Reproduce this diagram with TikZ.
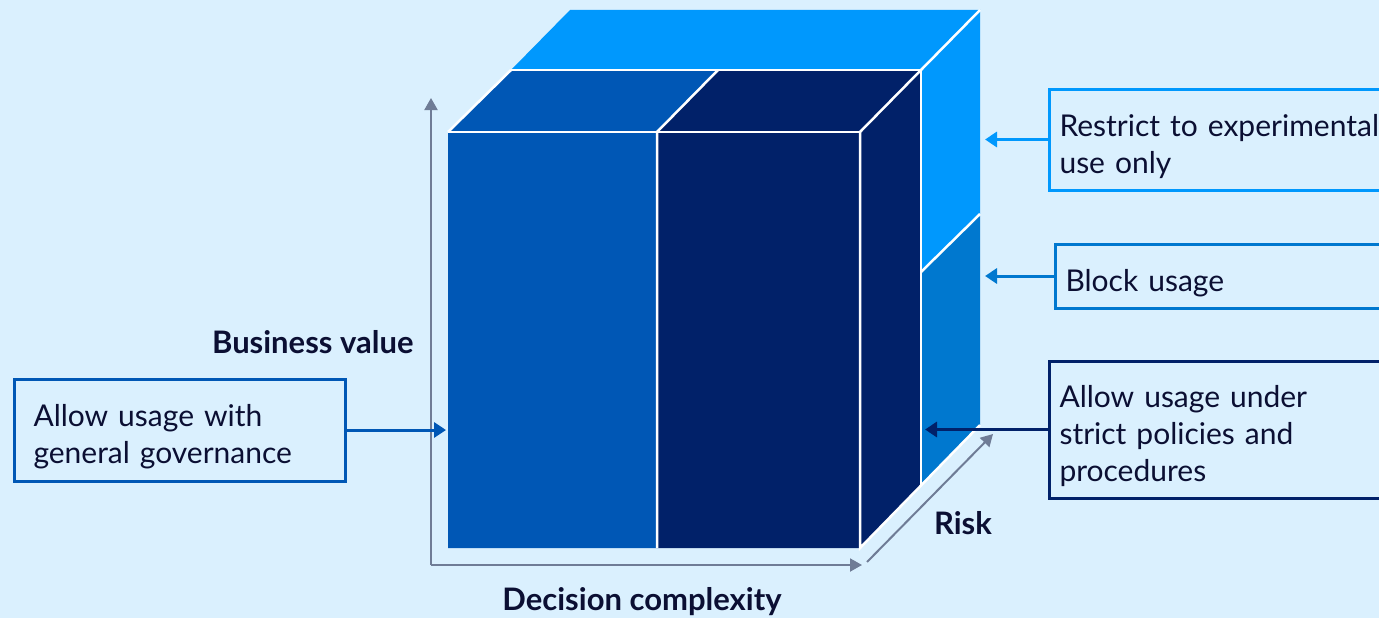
\documentclass[tikz,border=0pt]{standalone}
\usepackage{fontspec}
\setmainfont{Lato}
\usetikzlibrary{arrows.meta}
\definecolor{bgblue}{HTML}{DAF0FE}
\definecolor{clight}{HTML}{0098FD}
\definecolor{cmid}{HTML}{0078CF}
\definecolor{cfront}{HTML}{0057B5}
\definecolor{cnavy}{HTML}{012169}
\definecolor{caxis}{HTML}{6F7C96}
\definecolor{ctext}{HTML}{0B0F33}
\tikzset{
  box/.style={draw, line width=3pt, fill=bgblue, anchor=west, align=left,
    text=ctext, font=\fontsize{30}{37}\selectfont, inner ysep=0pt,
    execute at begin node={\rule{0pt}{36pt}}},
  conn/.style={line width=3pt, -{Triangle[length=12pt,width=15pt]}},
  axis/.style={caxis, line width=2pt, -{Triangle[length=12pt,width=13pt]}},
  edge/.style={white, line width=2.5pt},
  lbl/.style={text=ctext, font=\fontsize{31}{36}\selectfont\bfseries}
}
\begin{document}
\begin{tikzpicture}[x=1pt,y=-1pt]
    \clip (0,0) rectangle (1379,618);
    \fill[bgblue] (0,0) rectangle (1379,618);
    % cube corners
    \coordinate (bl) at (570,10);
    \coordinate (br) at (980,10);
    \coordinate (ml) at (511,70);
    \coordinate (mm) at (718,70);
    \coordinate (mr) at (921,70);
    \coordinate (fl) at (448,132);
    \coordinate (fm) at (657,132);
    \coordinate (fr) at (860,132);
    \coordinate (sr) at (980,214);
    \coordinate (sl) at (921,272);
    \coordinate (er) at (980,425);
    \coordinate (em) at (921,486);
    \coordinate (gl) at (448,548);
    \coordinate (gm) at (657,548);
    \coordinate (gr) at (860,548);
    % faces
    \fill[clight] (bl) -- (br) -- (mr) -- (ml) -- cycle;
    \fill[clight] (mr) -- (br) -- (sr) -- (sl) -- cycle;
    \fill[cmid] (sl) -- (sr) -- (er) -- (em) -- cycle;
    \fill[cfront] (fl) -- (ml) -- (mm) -- (fm) -- (gm) -- (gl) -- cycle;
    \fill[cnavy] (fm) -- (mm) -- (mr) -- (em) -- (gr) -- (gm) -- cycle;
    % white edges
    \draw[edge] (ml) -- (mr);
    \draw[edge] (fl) -- (fr);
    \draw[edge] (fl) -- (ml);
    \draw[edge] (mm) -- (fm) -- (gm);
    \draw[edge] (br) -- (mr) -- (fr) -- (gr) -- (er);
    \draw[edge] (mr) -- (em);
    \draw[edge] (sr) -- (sl);
    % axes
    \coordinate (o) at (431,565);
    \coordinate (ytip) at (431,98);
    \coordinate (xtip) at (862,565);
    \coordinate (rbase) at (867,562);
    \coordinate (rtip) at (993,434);
    \draw[axis] (o) -- (ytip);
    \draw[axis] (o) -- (xtip);
    \draw[axis] (rbase) -- (rtip);
    \node[lbl, anchor=east] (bv) at (417,342) {Business value};
    \node[lbl] (dc) at (642,602) {Decision complexity};
    \node[lbl] (rk) at (963,523) {Risk};
    % boxes
    \node[box, draw=cfront, minimum height=102pt, inner xsep=19pt, text width=293pt] (allow) at (13,430) {Allow usage with\\general governance};
    \node[box, draw=clight, minimum height=101pt, inner xsep=10pt, text width=420pt] (restrict) at (1048,139.5) {Restrict to experimental\\use only};
    \node[box, draw=cmid, minimum height=64pt, inner xsep=10pt, text width=420pt] (block) at (1054,276) {Block usage};
    \node[box, draw=cnavy, minimum height=137pt, inner xsep=10pt, text width=420pt] (strict) at (1048,429.5) {Allow usage under\\strict policies and\\procedures};
    % connectors
    \coordinate (ta) at (446,430);
    \coordinate (tb) at (985,139.5);
    \coordinate (tc) at (985,276);
    \coordinate (td) at (925,429.5);
    \draw[conn, cfront] (allow.east) -- (ta);
    \draw[conn, clight] (restrict.west) -- (tb);
    \draw[conn, cmid] (block.west) -- (tc);
    \draw[conn, cnavy] (strict.west) -- (td);
\end{tikzpicture}
\end{document}
